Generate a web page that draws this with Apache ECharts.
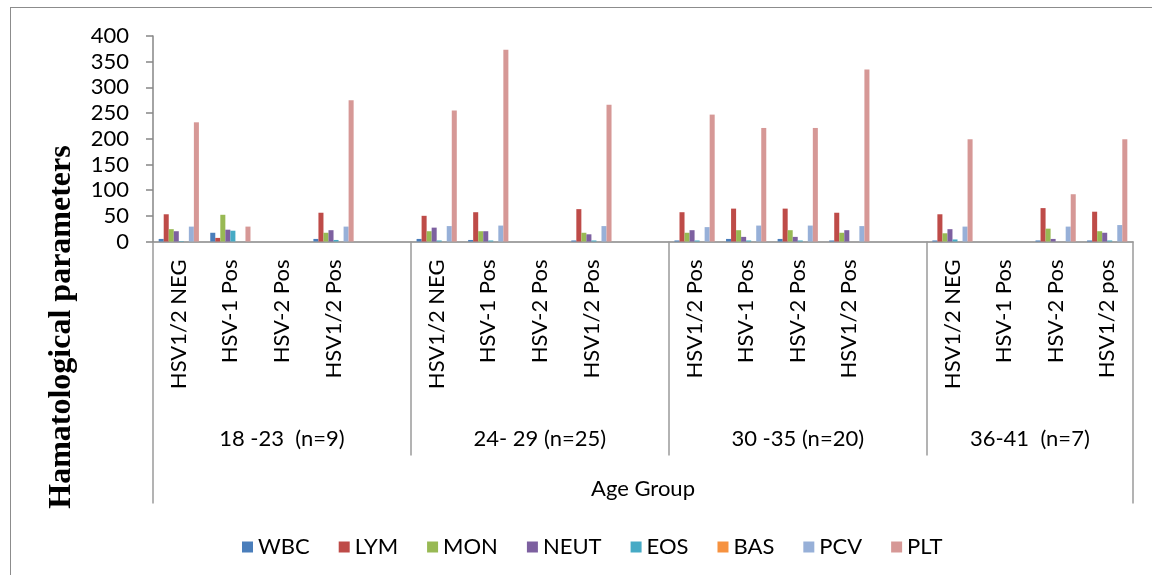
<!DOCTYPE html>
<html>
<head>
<meta charset="utf-8">
<script src="https://cdn.jsdelivr.net/npm/echarts@6/dist/echarts.min.js"></script>
<style>
  html, body { margin: 0; padding: 0; background: #fff; overflow: hidden; }
  #frame { position: absolute; left: 10px; top: 7px; width: 1200px; height: 620px; border: 1px solid #8c8c8c; }
  #chart { position: absolute; left: 0; top: 0; width: 1152px; height: 575px; }
</style>
</head>
<body>
<div id="frame"></div>
<div id="chart"></div>
<script>
// age groups and HSV status inside each group
const groups = ['18 -23  (n=9)', '24- 29 (n=25)', '30 -35 (n=20)', '36-41  (n=7)'];
const statusLabels = [
  ['HSV1/2 NEG', 'HSV-1 Pos', 'HSV-2 Pos', 'HSV1/2 Pos'],
  ['HSV1/2 NEG', 'HSV-1 Pos', 'HSV-2 Pos', 'HSV1/2 Pos'],
  ['HSV1/2 Pos', 'HSV-1 Pos', 'HSV-2 Pos', 'HSV1/2 Pos'],
  ['HSV1/2 NEG', 'HSV-1 Pos', 'HSV-2 Pos', 'HSV1/2 pos'],
];
const seriesNames = ['WBC', 'LYM', 'MON', 'NEUT', 'EOS', 'BAS', 'PCV', 'PLT'];
const colors = ['#4a7ebb', '#be4b48', '#98b954', '#7d60a0', '#46aac5', '#f69240', '#97b0d8', '#d69896'];

// values, 16 per series (4 groups x 4 status)
const wbc  = [5, 17, 0, 5,    5, 3, 0, 2,     2, 5, 5, 2,      2, 0, 2, 2];
const lym  = [53, 7, 0, 56,   50, 57, 0, 63,  57, 64, 64, 56,  53, 0, 65, 58];
const mon  = [24, 52, 0, 17,  20, 20, 0, 17,  17, 22, 22, 17,  16, 0, 25, 20];
const neut = [20, 23, 0, 22,  27, 20, 0, 14,  22, 9, 9, 22,    24, 0, 5, 17];
const eos  = [1, 21, 0, 3,    2, 2, 0, 2,     2, 2, 2, 0,      4, 0, 0, 2];
const bas  = [0, 0, 0, 0,     0, 0, 0, 0,     0, 0, 0, 0,      0, 0, 0, 0];
const pcv  = [29, 0, 0, 29,   30, 31, 0, 30,  28, 31, 31, 30,  29, 0, 29, 32];
const plt  = [232, 29, 0, 275, 255, 373, 0, 266, 247, 221, 221, 335, 199, 0, 92, 199];
const seriesValues = [wbc, lym, mon, neut, eos, bas, pcv, plt];

// excel layout leaves an empty slot after each of the first three groups
const categories = [];
const slotIndex = []; // value index -> slot
const groupStart = [];
statusLabels.forEach((labels, g) => {
  groupStart.push(categories.length);
  labels.forEach(l => { slotIndex.push(categories.length); categories.push(l); });
  if (g < statusLabels.length - 1) categories.push('');
});
groupStart.push(categories.length);

const toSlots = (vals) => {
  const out = categories.map(() => null);
  vals.forEach((v, i) => { out[slotIndex[i]] = v; });
  return out;
};

// second axis on half-slot points: group labels and separators
const halfCount = categories.length * 2 + 1;
const groupAxis = [];
for (let i = 0; i < halfCount; i += 1) groupAxis.push('');
groups.forEach((name, g) => { groupAxis[groupStart[g] + groupStart[g + 1]] = name; });
const innerSep = groupStart.slice(1, -1).map(s => s * 2);
const outerSep = [0, (halfCount - 1)];

const font = 'Lato';
const axisGrey = '#868686';

const myChart = echarts.init(document.getElementById('chart'));
myChart.setOption({
  animation: false,
  textStyle: { fontFamily: font },
  grid: { left: 153, right: 19, top: 36, bottom: 333.5, containLabel: false, outerBoundsMode: 'none' },
  legend: {
    data: seriesNames,
    left: 237,
    top: 531,
    icon: 'rect',
    itemWidth: 11,
    itemHeight: 11,
    itemGap: 29,
    textStyle: { fontSize: 22, color: '#000', fontFamily: font },
  },
  xAxis: [
    {
      type: 'category',
      position: 'bottom',
      data: categories,
      axisLine: { lineStyle: { color: axisGrey, width: 1.5 } },
      axisTick: { show: false },
      axisLabel: { rotate: 90, interval: 0, fontSize: 22, color: '#000', margin: 18 },
    },
    {
      type: 'category',
      position: 'bottom',
      data: groupAxis,
      boundaryGap: false,
      axisLine: { show: false },
      axisTick: {
        show: true,
        length: 214,
        interval: (idx) => innerSep.indexOf(idx) >= 0,
        lineStyle: { color: '#9a9a9a', width: 1.5 },
      },
      axisLabel: { interval: 0, fontSize: 22, color: '#000', margin: 186 },
    },
    {
      type: 'category',
      position: 'bottom',
      data: groupAxis.map(() => ''),
      boundaryGap: false,
      axisLine: { show: false },
      axisTick: {
        show: true,
        length: 262,
        interval: (idx) => outerSep.indexOf(idx) >= 0,
        lineStyle: { color: '#9a9a9a', width: 1.5 },
      },
      axisLabel: { show: false },
      name: 'Age Group',
      nameLocation: 'middle',
      nameGap: 236,
      nameTextStyle: { fontSize: 22, color: '#000' },
    },
  ],
  yAxis: {
    type: 'value',
    min: 0,
    max: 400,
    interval: 50,
    axisLine: { show: true, lineStyle: { color: axisGrey, width: 1.5 } },
    axisTick: { show: true, length: 7, lineStyle: { color: axisGrey, width: 1.5 } },
    splitLine: { show: false },
    axisLabel: { fontSize: 22, color: '#000', margin: 24 },
  },
  graphic: [{
    type: 'text',
    x: 62,
    y: 327,
    rotation: Math.PI / 2,
    style: {
      text: 'Hamatological parameters',
      fontFamily: '"Liberation Serif", "Times New Roman", serif',
      fontWeight: 'bold',
      fontSize: 32,
      fill: '#000',
      textAlign: 'center',
      textVerticalAlign: 'middle',
    },
  }],
  series: seriesNames.map((name, i) => ({
    name,
    type: 'bar',
    data: toSlots(seriesValues[i]),
    barGap: '0%',
    barCategoryGap: '22%',
    itemStyle: { color: colors[i] },
  })),
});
</script>
</body>
</html>
